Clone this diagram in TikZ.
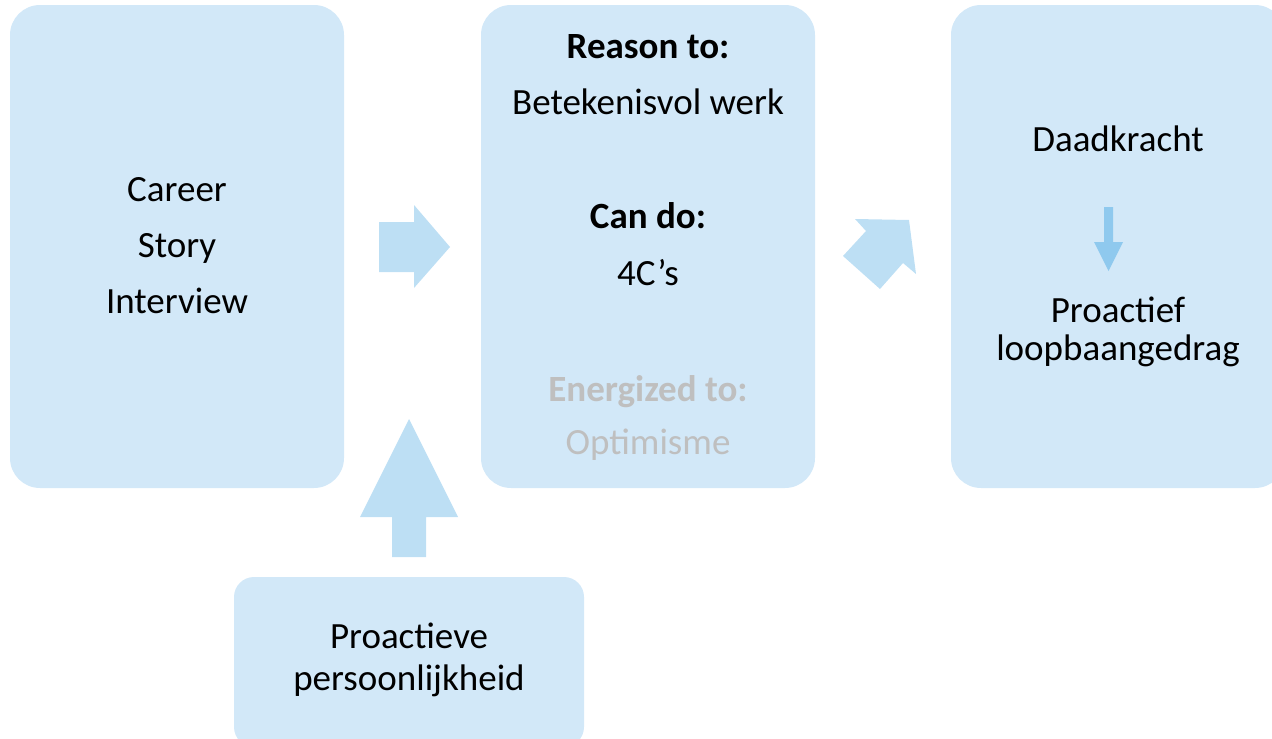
\documentclass[tikz,border=0pt]{standalone}
\usepackage{fontspec}
\setmainfont{Carlito}
\definecolor{boxfill}{HTML}{D2E8F8}
\definecolor{arrowfill}{HTML}{BDDFF4}
\definecolor{darrow}{HTML}{8FC9EE}
\definecolor{fadetext}{HTML}{BFBFBF}
\begin{document}
\begin{tikzpicture}[x=1pt,y=-1pt,
  box/.style={fill=boxfill, draw=none, rounded corners=30pt, inner sep=0pt},
  txt/.style={anchor=base, inner sep=0pt, font=\fontsize{37}{44}\selectfont, text=black},
  btxt/.style={txt, font=\fontsize{37}{44}\selectfont\bfseries},
  fadetxt/.style={txt, text=fadetext},
  fadebtxt/.style={btxt, text=fadetext}]
\useasboundingbox (0,0) rectangle (1272,739);
\clip (0,0) rectangle (1272,739);
% boxes
\node[box, minimum width=334pt, minimum height=483pt] (b1) at (177,246.5) {};
\node[box, minimum width=334pt, minimum height=483pt] (b2) at (648,246.5) {};
\node[box, minimum width=334pt, minimum height=483pt] (b3) at (1118,246.5) {};
\node[box, rounded corners=20pt, minimum width=350pt, minimum height=170pt] (b4) at (409,662) {};
% texts box 1
\node[txt] (t1a) at (177,201) {Career};
\node[txt] (t1b) at (177,257) {Story};
\node[txt] (t1c) at (177,313) {Interview};
% texts box 2
\node[btxt] (t2a) at (648,58) {Reason to:};
\node[txt] (t2b) at (648,114) {Betekenisvol werk};
\node[btxt] (t2c) at (648,228) {Can do:};
\node[txt] (t2d) at (648,285) {4C’s};
\node[fadebtxt] (t2e) at (648,401) {Energized to:};
\node[fadetxt] (t2f) at (648,454) {Optimisme};
% texts box 3
\node[txt] (t3a) at (1118,151) {Daadkracht};
\node[txt] (t3b) at (1118,322) {Proactief};
\node[txt] (t3c) at (1118,360) {loopbaangedrag};
% texts box 4
\node[txt] (t4a) at (409,648) {Proactieve};
\node[txt] (t4b) at (409,690) {persoonlijkheid};
% block arrows
\fill[arrowfill] (379,222) -- (414,222) -- (414,205) -- (450,247) -- (414,288) -- (414,272) -- (379,272) -- cycle;
\fill[arrowfill] (392,557) -- (392,517) -- (360,517) -- (409,419) -- (458,517) -- (426,517) -- (426,557) -- cycle;
\fill[arrowfill] (866,231) -- (855,219) -- (909,220) -- (916,274) -- (903,263) -- (880,289) -- (843,256) -- cycle;
\fill[darrow] (1104,207) -- (1113,207) -- (1113,242) -- (1123,242) -- (1108.5,271) -- (1094,242) -- (1104,242) -- cycle;
\end{tikzpicture}
\end{document}
